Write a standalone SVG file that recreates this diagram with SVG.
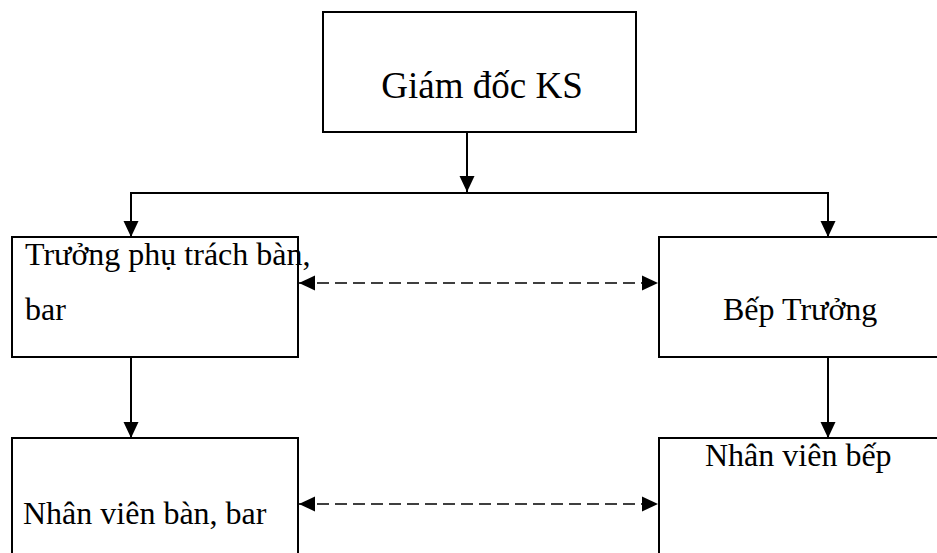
<svg xmlns="http://www.w3.org/2000/svg" width="937" height="553" viewBox="0 0 937 553">
  <style>
    .box { fill: #ffffff; stroke: #000000; stroke-width: 2; }
    .lbl { font-family: 'Liberation Serif', 'DejaVu Serif', serif; fill: #000000; }
    .line { fill: none; stroke: #000000; stroke-width: 2; }
    .dash { fill: none; stroke: #000000; stroke-width: 1.6; stroke-dasharray: 12 6; }
  </style>
  <defs>
    <marker id="arr" markerUnits="userSpaceOnUse" markerWidth="18" markerHeight="16" refX="16" refY="8" orient="auto-start-reverse" viewBox="0 0 18 16">
      <path d="M0,0.5 L16,8 L0,15.5 z" fill="#000000"/>
    </marker>
  </defs>
  <rect width="937" height="553" fill="#ffffff"/>

  <g id="n-giamdoc">
    <rect class="box" x="323" y="12" width="313" height="120"/>
    <text class="lbl" x="482" y="98" font-size="37" text-anchor="middle" font-family="Liberation Serif, serif">Giám đốc KS</text>
  </g>
  <g id="n-truongphu">
    <rect class="box" x="12" y="237" width="286" height="120"/>
    <text class="lbl" x="25" y="265" font-size="32" font-family="Liberation Serif, serif">Trưởng phụ trách bàn,</text>
    <text class="lbl" x="25" y="320" font-size="32" font-family="Liberation Serif, serif">bar</text>
  </g>
  <g id="n-beptruong">
    <rect class="box" x="659" y="237" width="300" height="120"/>
    <text class="lbl" x="723" y="320" font-size="32" font-family="Liberation Serif, serif">Bếp Trưởng</text>
  </g>
  <g id="n-nvban">
    <rect class="box" x="12" y="438" width="286" height="140"/>
    <text class="lbl" x="23" y="524" font-size="32" font-family="Liberation Serif, serif">Nhân viên bàn, bar</text>
  </g>
  <g id="n-nvbep">
    <rect class="box" x="659" y="438" width="300" height="140"/>
    <text class="lbl" x="705" y="466" font-size="32" font-family="Liberation Serif, serif">Nhân viên bếp</text>
  </g>

  <g id="connectors">
    <line class="line" x1="467" y1="132" x2="467" y2="192" marker-end="url(#arr)"/>
    <polyline class="line" points="131,236 131,193 828,193 828,236"/>
    <line class="line" x1="131" y1="193" x2="131" y2="237" marker-end="url(#arr)"/>
    <line class="line" x1="828" y1="193" x2="828" y2="237" marker-end="url(#arr)"/>
    <line class="line" x1="131" y1="357" x2="131" y2="438" marker-end="url(#arr)"/>
    <line class="line" x1="828" y1="357" x2="828" y2="438" marker-end="url(#arr)"/>
    <line class="dash" x1="299" y1="283" x2="658" y2="283" marker-start="url(#arr)" marker-end="url(#arr)"/>
    <line class="dash" x1="299" y1="504" x2="658" y2="504" marker-start="url(#arr)" marker-end="url(#arr)"/>
  </g>
</svg>
